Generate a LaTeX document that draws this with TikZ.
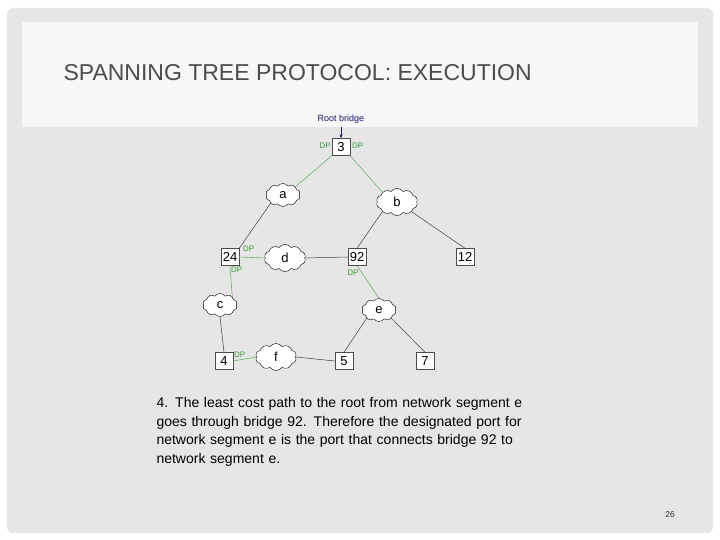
\documentclass[tikz,border=0pt]{standalone}
\usepackage{fontspec}
\setmainfont{Liberation Sans}
\usetikzlibrary{shapes.symbols,arrows.meta}
\definecolor{bg}{HTML}{E6E6E6}
\definecolor{dpg}{HTML}{3C9A3C}
\definecolor{lg}{HTML}{6FAF6F}
\definecolor{navy}{HTML}{1A1A6E}
\tikzset{
  br/.style={draw=black!70,fill=white,inner sep=1.5pt,minimum width=18pt,minimum height=17pt,font=\fontsize{13}{13}\selectfont},
  seg/.style={cloud,cloud puffs=10,cloud puff arc=110,aspect=1.8,draw=black,fill=white,inner xsep=8pt,inner ysep=3pt,font=\fontsize{13}{13}\selectfont},
  dp/.style={text=dpg,font=\fontsize{8}{8}\selectfont,inner sep=1pt},
  gl/.style={draw=lg,line width=0.6pt},
  bl/.style={draw=black!75,line width=0.5pt}
}
\begin{document}
\begin{tikzpicture}[x=1pt,y=-1pt]
\useasboundingbox (0,0) rectangle (720,540);
\fill[white] (0,0) rectangle (720,540);
\fill[bg,rounded corners=6pt] (7,8) rectangle (713,533);
\fill[white!97!black] (22,22) rectangle (698,127);
\node[text=black!70,anchor=west,font=\fontsize{23}{23}\selectfont] (title) at (60,73) {SPANNING TREE PROTOCOL: EXECUTION};
\node[text=navy,font=\fontsize{9}{9}\selectfont] (root) at (341,119) {Root bridge};
\node[br] (n3) at (341,147) {3};
\node[seg] (a) at (283,195) {a};
\node[seg] (b) at (397,202) {b};
\node[br] (n24) at (230,257) {24};
\node[seg] (d) at (285,258) {d};
\node[br] (n92) at (357,257) {92};
\node[br] (n12) at (465,257) {12};
\node[seg] (c) at (220,305) {c};
\node[seg] (e) at (379,310) {e};
\node[br] (n4) at (224,361) {4};
\node[seg] (f) at (276,357) {f};
\node[br] (n5) at (344,361) {5};
\node[br] (n7) at (425,361) {7};
\draw[-{Stealth[length=4pt]},navy,line width=0.6pt] (root.south) -- (n3.north);
\draw[gl] (n3.south west) -- (a.north east);
\draw[gl] (n3.south east) -- (b.north west);
\draw[bl] (a.south west) -- (n24.north east);
\draw[bl] (b.south west) -- (n92.north);
\draw[bl] (b.south east) -- (n12.north);
\draw[gl] (n24.east) -- (d.west);
\draw[bl] (d.east) -- (n92.west);
\draw[gl] (n24.south) -- (c.north east);
\draw[gl] (n92.south) -- (e.north);
\draw[bl] (c.south) -- (n4.north);
\draw[gl] (n4.east) -- (f.west);
\draw[bl] (f.east) -- (n5.west);
\draw[bl] (e.south west) -- (n5.north);
\draw[bl] (e.south east) -- (n7.north);
\node[dp,anchor=east] (dp1) at (332,146) {DP};
\node[dp,anchor=west] (dp2) at (351,146) {DP};
\node[dp,anchor=west] (dp3) at (242,249) {DP};
\node[dp,anchor=west] (dp4) at (230,270) {DP};
\node[dp] (dp5) at (353,273) {DP};
\node[dp,anchor=west] (dp6) at (233,355) {DP};
\node[align=left,anchor=north west,text width=420pt,font=\fontsize{14}{18.5}\selectfont] (txt) at (153,394) {4. The least cost path to the root from network segment e\\goes through bridge 92. Therefore the designated port for\\network segment e is the port that connects bridge 92 to\\network segment e.};
\node[font=\fontsize{8.5}{8.5}\selectfont,text=black!80] (pg) at (670,515) {26};
\end{tikzpicture}
\end{document}
